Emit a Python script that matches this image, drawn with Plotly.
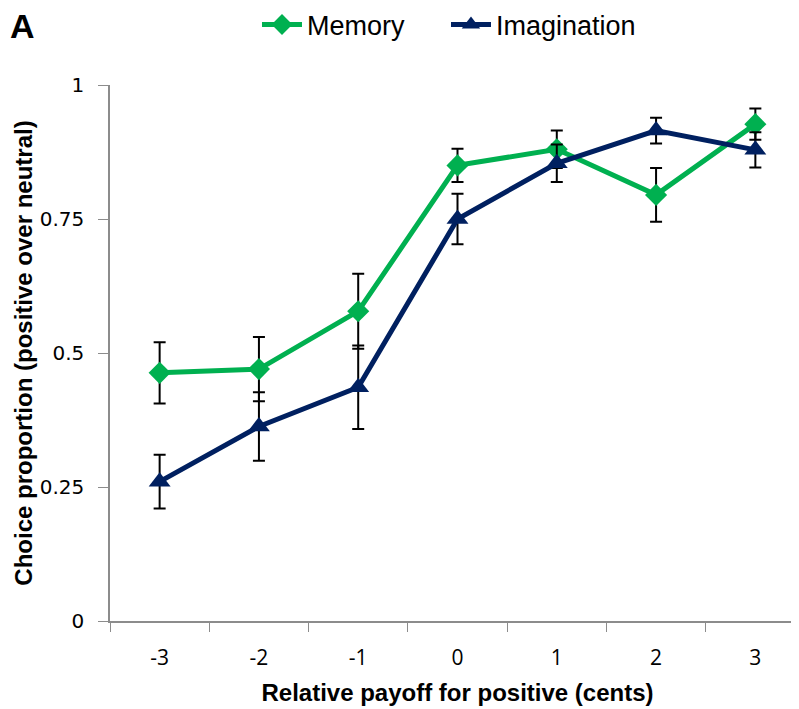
import plotly.graph_objects as go

categories = ["-3", "-2", "-1", "0", "1", "2", "3"]
memory = [0.463, 0.470, 0.578, 0.850, 0.880, 0.795, 0.927]
memory_err = [0.057, 0.060, 0.070, 0.031, 0.035, 0.050, 0.029]
imagination = [0.260, 0.363, 0.436, 0.750, 0.854, 0.915, 0.879]
imagination_err = [0.050, 0.064, 0.078, 0.047, 0.035, 0.024, 0.033]
ytick_vals = [0, 0.25, 0.5, 0.75, 1]
ytick_text = ["0", "0.25", "0.5", "0.75", "1"]

GREEN = "#00B050"
NAVY = "#002060"

fig = go.Figure()
fig.add_trace(go.Scatter(
    x=categories, y=memory, name="Memory", mode="lines+markers",
    line=dict(color=GREEN, width=5),
    marker=dict(symbol="diamond", size=17, color=GREEN),
    error_y=dict(type="data", array=memory_err, color="black", thickness=2, width=6),
))
fig.add_trace(go.Scatter(
    x=categories, y=imagination, name="Imagination", mode="lines+markers",
    line=dict(color=NAVY, width=5),
    marker=dict(symbol="triangle-up", size=19, color=NAVY),
    error_y=dict(type="data", array=imagination_err, color="black", thickness=2, width=6),
))

fig.update_layout(
    width=799, height=709,
    margin=dict(l=102, r=2, t=77, b=96, autoexpand=False),
    plot_bgcolor="white", paper_bgcolor="white",
    font=dict(family="Liberation Sans", size=18, color="black"),
    showlegend=True,
    legend=dict(orientation="h", x=0.2115, y=1.112, xanchor="left", yanchor="middle",
                font=dict(family="Liberation Sans", size=27), itemwidth=40,
                entrywidth=134, entrywidthmode="pixels", tracegroupgap=0),
    xaxis=dict(type="category", tickson="boundaries", range=[-0.5, 6.5],
               automargin=False,
               showline=True, linecolor="#8c8c8c", linewidth=1.5,
               ticks="outside", ticklen=9, tickcolor="#8c8c8c",
               showgrid=False, zeroline=False, ticklabelstandoff=17,
               tickfont=dict(family="Open Sans", size=21),
               title=dict(text="<b>Relative payoff for positive (cents)</b>",
                          font=dict(family="Liberation Sans", size=24), standoff=14)),
    yaxis=dict(range=[0, 1], tickvals=ytick_vals, ticktext=ytick_text,
               automargin=False,
               showline=True, linecolor="#8c8c8c", linewidth=1.5,
               ticks="outside", ticklen=10, tickcolor="#8c8c8c",
               showgrid=False, zeroline=False, ticklabelstandoff=10,
               tickfont=dict(family="DejaVu Sans", size=20),
               title=dict(text="<b>Choice proportion (positive over neutral)</b>",
                          font=dict(family="Liberation Sans", size=24), standoff=0)),
    annotations=[dict(text="<b>A</b>", x=-0.147, y=1.110, xref="paper", yref="paper",
                      xanchor="left", yanchor="middle", showarrow=False,
                      font=dict(family="Liberation Sans", size=34))],
)

fig.write_html("out.html")
